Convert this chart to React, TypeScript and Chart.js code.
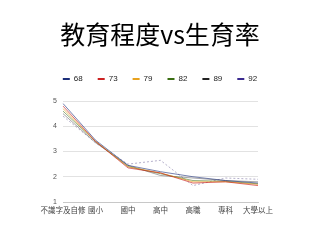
import React, { useEffect, useRef } from "react";
import { Chart, registerables } from "chart.js";

Chart.register(...registerables);

// Education level categories (x axis)
const categories = ["不識字及自修", "國小", "國中", "高中", "高職", "專科", "大學以上"];

// Fertility rate per survey year
const yearLabels = ["68", "73", "79", "82", "89", "92"];
const rate68 = [4.9, 3.45, 2.45, 2.2, 2.0, 1.85, 1.75];
const rate73 = [4.8, 3.4, 2.35, 2.15, 1.75, 1.8, 1.65];
const rate79 = [4.7, 3.4, 2.4, 2.15, 1.8, 1.8, 1.7];
const rate82 = [4.6, 3.4, 2.4, 2.12, 1.85, 1.82, 1.72];
const rate89 = [4.5, 3.35, 2.45, 2.05, 1.95, 1.85, 1.8];
const rate92 = [4.4, 3.35, 2.5, 2.65, 1.65, 1.95, 1.9];

const yTicks = [1, 2, 3, 4, 5];

const seriesValues = [rate68, rate73, rate79, rate82, rate89, rate92];
const seriesColors = ["#1c2f7a", "#cc2222", "#e8a21f", "#3a6e12", "#222222", "#3b2a8f"];
const lineColors = [
  "rgba(28,47,122,0.6)",
  "rgba(204,34,34,0.65)",
  "rgba(232,162,31,0.65)",
  "rgba(58,110,18,0.55)",
  "rgba(60,60,60,0.45)",
  "rgba(90,80,140,0.45)",
];

export default function App() {
  const canvasRef = useRef<HTMLCanvasElement | null>(null);

  useEffect(() => {
    document.body.style.margin = "0";
    const canvas = canvasRef.current;
    if (!canvas) return;

    const chart = new Chart(canvas, {
      type: "line",
      data: {
        labels: categories,
        datasets: yearLabels.map((label, i) => ({
          label,
          data: seriesValues[i],
          borderColor: lineColors[i],
          backgroundColor: seriesColors[i],
          borderWidth: 1,
          borderDash: i === 5 ? [2, 2] : [],
          pointRadius: 0,
          tension: 0,
        })),
      },
      options: {
        responsive: false,
        animation: false,
        layout: { padding: { left: 0, right: 0, top: 0, bottom: 21 } },
        plugins: {
          title: {
            display: true,
            text: "教育程度vs生育率",
            color: "#000",
            font: { family: "'Noto Sans CJK TC', sans-serif", size: 25, weight: "normal" },
            padding: { top: 19, bottom: 11 },
          },
          legend: {
            display: true,
            position: "top",
            labels: {
              usePointStyle: true,
              pointStyle: "line",
              pointStyleWidth: 7,
              padding: 15,
              color: "#222",
              font: { family: "'Liberation Sans', Arial, sans-serif", size: 8 },
              generateLabels: (c) =>
                c.data.datasets.map((ds, i) => ({
                  text: ds.label as string,
                  strokeStyle: seriesColors[i],
                  fillStyle: seriesColors[i],
                  lineWidth: 2,
                  lineDash: [],
                  pointStyle: "line",
                  hidden: false,
                  datasetIndex: i,
                  fontColor: "#222",
                })),
            },
          },
          tooltip: { enabled: false },
        },
        scales: {
          x: {
            offset: false,
            grid: { display: false, drawTicks: false },
            border: { display: true, color: "#c8c8c8", width: 1 },
            ticks: {
              color: "#444",
              padding: 4,
              maxRotation: 0,
              autoSkip: false,
              font: { family: "'Noto Sans CJK TC', sans-serif", size: 7.5 },
            },
          },
          // empty spacer above the plot
          xTop: {
            type: "category",
            position: "top",
            labels: categories,
            afterFit: (scale) => {
              scale.height = 8;
            },
            grid: { display: false, drawTicks: false },
            border: { display: false },
            ticks: { display: false },
          },
          y: {
            min: 1,
            max: 5,
            afterFit: (scale) => {
              scale.width = 63;
            },
            afterBuildTicks: (scale) => {
              scale.ticks = yTicks.map((v) => ({ value: v }));
            },
            grid: { color: "#e2e2e2", drawTicks: false },
            border: { display: false },
            ticks: {
              color: "#555",
              padding: 6,
              font: { family: "'Liberation Sans', Arial, sans-serif", size: 7 },
            },
          },
          // empty spacer to the right of the plot
          yRight: {
            type: "linear",
            position: "right",
            min: 1,
            max: 5,
            afterFit: (scale) => {
              scale.width = 62;
            },
            grid: { display: false, drawTicks: false },
            border: { display: false },
            ticks: { display: false },
          },
        },
      },
    });

    return () => chart.destroy();
  }, []);

  return (
    <div style={{ width: 320, height: 240, background: "#fff" }}>
      <canvas ref={canvasRef} width={320} height={240} />
    </div>
  );
}
